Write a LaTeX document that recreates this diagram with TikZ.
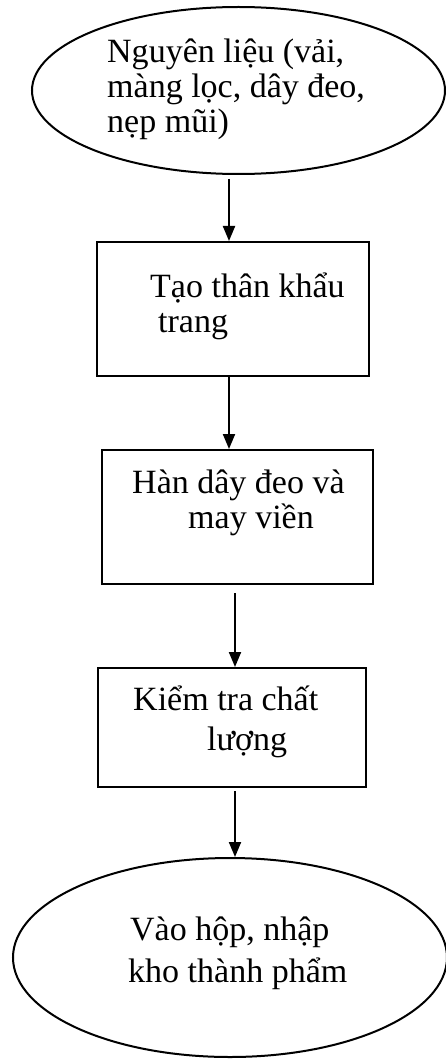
\documentclass[tikz,border=0pt]{standalone}
\usepackage{fontspec}
\setmainfont{Liberation Serif}
\usetikzlibrary{shapes.geometric,arrows.meta}
\begin{document}
\begin{tikzpicture}[x=1pt,y=-1pt,
  shapeline/.style={draw=black, line width=2pt, inner sep=0pt},
  ovalbox/.style={shapeline, ellipse},
  stepbox/.style={shapeline, rectangle},
  lbl/.style={anchor=base west, inner sep=0pt, font=\fontsize{34}{35}\selectfont},
  arr/.style={line width=2pt, -{Triangle[length=15pt,width=12pt]}}]
\useasboundingbox (0,0) rectangle (446,1059);
\clip (0,0) rectangle (446,1059);
% shapes
\node[ovalbox, minimum width=413pt, minimum height=167pt] (e1) at (238.5,90.5) {};
\node[stepbox, minimum width=272pt, minimum height=134pt] (b1) at (233,309) {};
\node[stepbox, minimum width=271pt, minimum height=134pt] (b2) at (237.5,517) {};
\node[stepbox, minimum width=268pt, minimum height=119pt] (b3) at (232,727.5) {};
\node[ovalbox, minimum width=434pt, minimum height=199pt] (e2) at (230,957.5) {};
% texts
\node[lbl] (t1a) at (107,63) {Nguyên liệu (vải,};
\node[lbl] (t1b) at (107,98) {màng lọc, dây đeo,};
\node[lbl] (t1c) at (107,133) {nẹp mũi)};
\node[lbl] (t2a) at (150,297) {Tạo thân khẩu};
\node[lbl] (t2b) at (158,332) {trang};
\node[lbl] (t3a) at (132,493) {Hàn dây đeo và};
\node[lbl] (t3b) at (188,528) {may viền};
\node[lbl] (t4a) at (133,710) {Kiểm tra chất};
\node[lbl] (t4b) at (207,750) {lượng};
\node[lbl] (t5a) at (130,940) {Vào hộp, nhập};
\node[lbl] (t5b) at (128,982) {kho thành phẩm};
% connectors
\draw[arr] ([xshift=-9.5pt,yshift=-4pt]e1.south) -- ([xshift=-4pt]b1.north);
\draw[arr] ([xshift=-4pt]b1.south) -- ([xshift=-8.5pt]b2.north);
\draw[arr] ([xshift=-2.5pt,yshift=-8pt]b2.south) -- ([xshift=3pt]b3.north);
\draw[arr] ([xshift=3pt,yshift=-3pt]b3.south) -- ([xshift=5pt]e2.north);
\end{tikzpicture}
\end{document}
